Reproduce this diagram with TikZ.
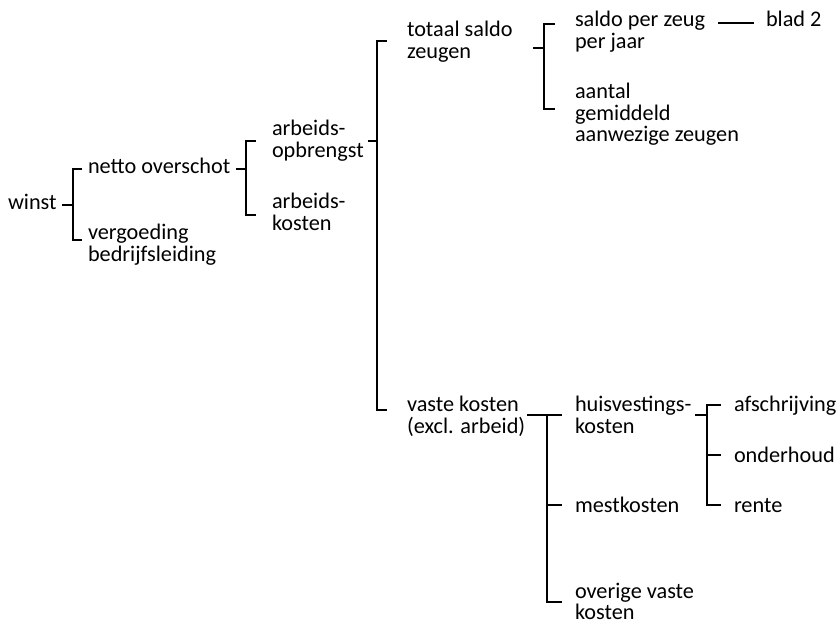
\documentclass[tikz,border=0pt]{standalone}
\usepackage{fontspec}
\setmainfont{Carlito}
\newcommand\lns[1]{\vtop{\baselineskip=16pt\lineskiplimit=-\maxdimen\halign{##\hfil\cr#1\crcr}}}
\tikzset{
  lbl/.style={anchor=base west, inner sep=0pt, outer sep=0pt, font=\fontsize{16.7}{16}\selectfont, text=black},
  conn/.style={draw=black, line width=0.9pt}
}
\begin{document}
\begin{tikzpicture}[x=0.75pt,y=-0.75pt]
\useasboundingbox (0,0) rectangle (839,623);
% labels
\node[lbl] (winst) at (8,210) {winst};
\node[lbl] (netto) at (88,174) {netto overschot};
\node[lbl] (verg) at (88,240) {\lns{vergoeding\cr bedrijfsleiding}};
\node[lbl] (aopb) at (272,136) {\lns{arbeids-\cr opbrengst}};
\node[lbl] (akos) at (272,209) {\lns{arbeids-\cr kosten}};
\node[lbl] (tsz) at (407,37) {\lns{totaal saldo\cr zeugen}};
\node[lbl] (spz) at (575,27) {\lns{saldo per zeug\cr per jaar}};
\node[lbl] (blad) at (766,27) {blad 2};
\node[lbl] (aant) at (575,99) {\lns{aantal\cr gemiddeld\cr aanwezige zeugen}};
\node[lbl] (vk) at (407,412) {\lns{vaste kosten\cr (excl. arbeid)}};
\node[lbl] (huis) at (575,412) {\lns{huisvestings-\cr kosten}};
\node[lbl] (afs) at (734,412) {afschrijving};
\node[lbl] (ond) at (734,462) {onderhoud};
\node[lbl] (rente) at (734,512) {rente};
\node[lbl] (mest) at (575,512) {mestkosten};
\node[lbl] (ovk) at (575,598) {\lns{overige vaste\cr kosten}};
% winst bracket
\coordinate (w0) at (62,205); \coordinate (w1) at (73,205);
\coordinate (wt) at (73,169); \coordinate (wb) at (73,240);
\draw[conn] (w0) -- (w1);
\draw[conn] ([xshift=9*0.75pt]wt) -- (wt) -- (wb) -- ([xshift=9*0.75pt]wb);
% netto bracket
\coordinate (n0) at (236,169); \coordinate (n1) at (246,169);
\coordinate (nt) at (246,141); \coordinate (nb) at (246,215);
\draw[conn] (n0) -- (n1);
\draw[conn] ([xshift=10*0.75pt]nt) -- (nt) -- (nb) -- ([xshift=10*0.75pt]nb);
% arbeidsopbrengst bracket
\coordinate (a0) at (368,141); \coordinate (a1) at (377,141);
\coordinate (at) at (377,41); \coordinate (ab) at (377,410);
\draw[conn] (a0) -- (a1);
\draw[conn] ([xshift=10*0.75pt]at) -- (at) -- (ab) -- ([xshift=10*0.75pt]ab);
% totaal saldo bracket
\coordinate (t0) at (533,48); \coordinate (t1) at (544,48);
\coordinate (tt) at (544,24); \coordinate (tb) at (544,109);
\draw[conn] (t0) -- (t1);
\draw[conn] ([xshift=11*0.75pt]tt) -- (tt) -- (tb) -- ([xshift=11*0.75pt]tb);
% saldo per zeug -> blad 2
\coordinate (s0) at (718,23); \coordinate (s1) at (754,23);
\draw[conn] (s0) -- (s1);
% vaste kosten
\coordinate (v0) at (527,415); \coordinate (v1) at (562,415);
\coordinate (vt) at (547,415); \coordinate (vm) at (547,505); \coordinate (vb) at (547,602);
\draw[conn] (v0) -- (v1);
\draw[conn] (vt) -- (vb) -- ([xshift=15*0.75pt]vb);
\draw[conn] (vm) -- ([xshift=15*0.75pt]vm);
% huisvesting
\coordinate (h0) at (695,415); \coordinate (h1) at (707,415);
\coordinate (ht) at (707,405); \coordinate (hm) at (707,455); \coordinate (hb) at (707,505);
\draw[conn] (h0) -- (h1);
\draw[conn] ([xshift=14*0.75pt]ht) -- (ht) -- (hb) -- ([xshift=14*0.75pt]hb);
\draw[conn] (hm) -- ([xshift=14*0.75pt]hm);
\end{tikzpicture}
\end{document}
